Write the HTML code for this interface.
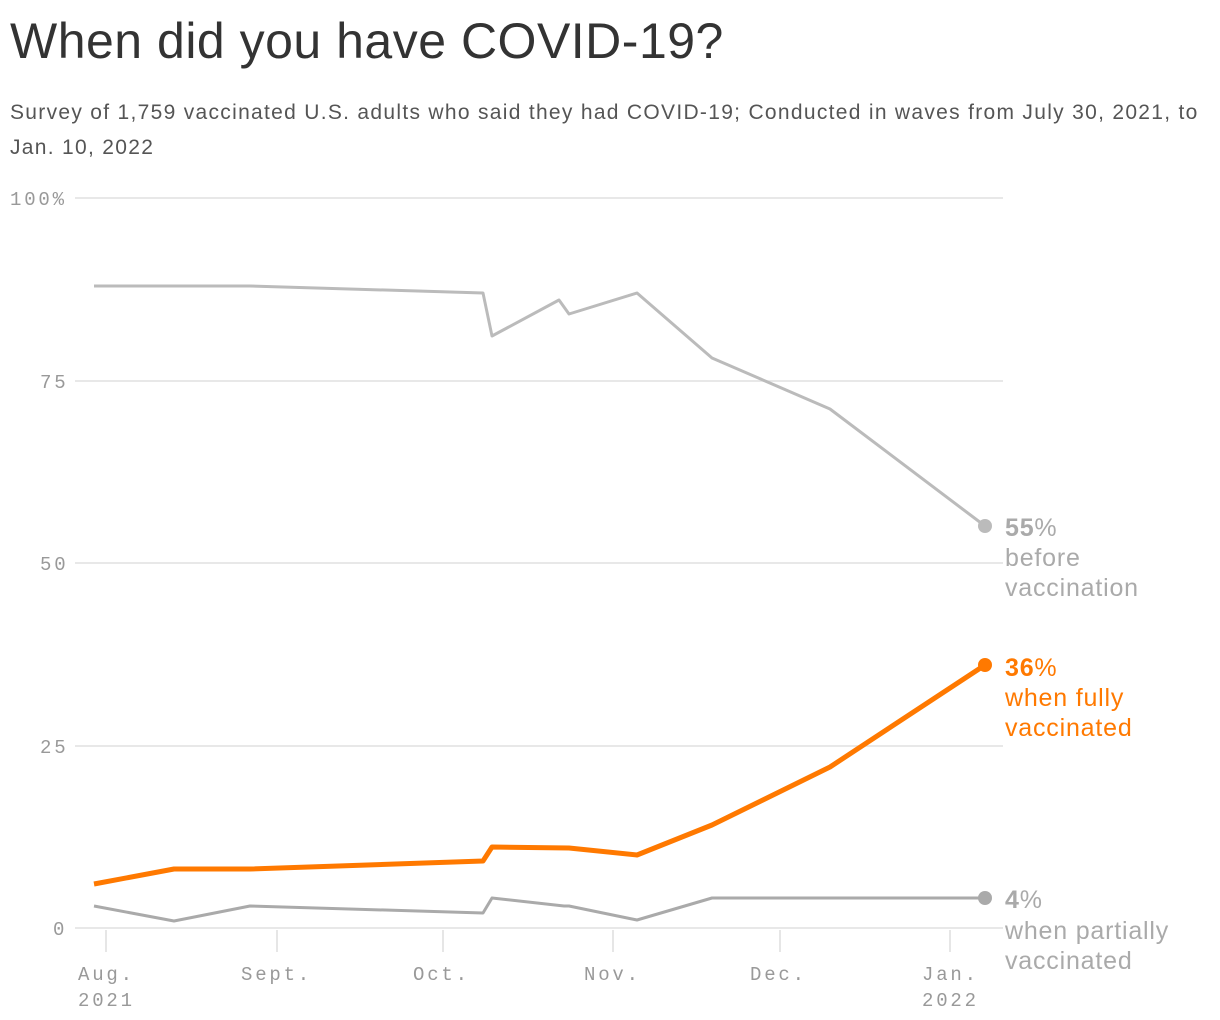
<!DOCTYPE html>
<html><head><meta charset="utf-8"><style>
body{margin:0;background:#fff;width:1220px;height:1020px;overflow:hidden;font-family:"Liberation Sans",sans-serif;}
.t{position:absolute;left:10px;top:12px;font-size:50px;color:#333;letter-spacing:0.5px;}
.s{position:absolute;left:10px;top:95px;font-size:21px;line-height:35px;color:#555;width:1215px;letter-spacing:1.3px;white-space:nowrap;}
</style></head><body>
<div class="t">When did you have COVID-19?</div>
<div class="s">Survey of 1,759 vaccinated U.S. adults who said they had COVID-19; Conducted in waves from July 30, 2021, to<br>Jan. 10, 2022</div>
<svg width="1220" height="1020" style="position:absolute;left:0;top:0">
<g stroke="#e0e0e0" stroke-width="1.5">
<line x1="75" y1="198" x2="1003" y2="198"/><line x1="75" y1="381" x2="1003" y2="381"/>
<line x1="75" y1="563" x2="1003" y2="563"/><line x1="75" y1="746" x2="1003" y2="746"/>
<line x1="75" y1="928" x2="1003" y2="928"/>
</g>
<g stroke="#ddd" stroke-width="1.5">
<line x1="106" y1="930" x2="106" y2="952"/><line x1="277" y1="930" x2="277" y2="952"/>
<line x1="443" y1="930" x2="443" y2="952"/><line x1="613" y1="930" x2="613" y2="952"/>
<line x1="780" y1="930" x2="780" y2="952"/><line x1="950" y1="930" x2="950" y2="952"/>
</g>
<g font-family="Liberation Mono,monospace" font-size="19" fill="#999" letter-spacing="2.8">
<text x="10" y="205">100%</text><text x="40" y="388">75</text><text x="40" y="570">50</text><text x="40" y="753">25</text><text x="53" y="935">0</text>
<text x="78" y="980">Aug.</text><text x="78" y="1006">2021</text>
<text x="241" y="980">Sept.</text><text x="413" y="980">Oct.</text><text x="584" y="980">Nov.</text>
<text x="750" y="980">Dec.</text><text x="922" y="980">Jan.</text><text x="922" y="1006">2022</text>
</g>
<g fill="none" stroke-linejoin="round">
<polyline stroke="#bbb" stroke-width="3" points="94,286 250,286 483,293 492,336 559,300 569,314 637,293 712,358 830,409 985,526"/>
<polyline stroke="#aaa" stroke-width="3" points="94,906 174,921 250,906 483,913 492,898 564,906 569,906 637,920 712,898 985,898"/>
<polyline stroke="#ff7900" stroke-width="5" points="94,884 174,869 250,869 483,861 492,847 569,848 637,855 712,825 830,767 985,665"/>
</g>
<circle cx="985" cy="526" r="7" fill="#bbb"/><circle cx="985" cy="898" r="7" fill="#aaa"/><circle cx="985" cy="665" r="7" fill="#ff7900"/>
<g font-size="25" letter-spacing="0.8">
<text x="1005" y="536" fill="#aaa"><tspan font-weight="bold">55</tspan>%</text>
<text x="1005" y="566" fill="#aaa">before</text><text x="1005" y="596" fill="#aaa">vaccination</text>
<text x="1005" y="676" fill="#ff7900"><tspan font-weight="bold">36</tspan>%</text>
<text x="1005" y="706" fill="#ff7900">when fully</text><text x="1005" y="736" fill="#ff7900">vaccinated</text>
<text x="1005" y="908" fill="#aaa"><tspan font-weight="bold">4</tspan>%</text>
<text x="1005" y="939" fill="#aaa">when partially</text><text x="1005" y="969" fill="#aaa">vaccinated</text>
</g>
</svg>
</body></html>
